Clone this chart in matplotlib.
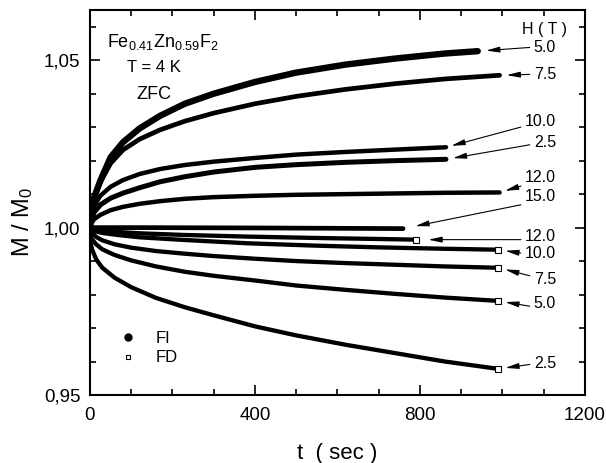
import matplotlib
matplotlib.use('Agg')
import matplotlib.pyplot as plt
from matplotlib.lines import Line2D
from matplotlib.ticker import MultipleLocator

plt.rcParams['font.family'] = ['Liberation Sans', 'DejaVu Sans']
plt.rcParams['mathtext.fontset'] = 'custom'
plt.rcParams['mathtext.rm'] = 'Liberation Sans'
plt.rcParams['mathtext.it'] = 'Liberation Sans:italic'
plt.rcParams['mathtext.bf'] = 'Liberation Sans:bold'

# field-increasing (FI) relaxation curves, H in tesla
fi_5_t = [0, 3, 10, 25, 50, 80, 120, 170, 230, 300, 400, 500, 620, 740, 860, 940]
fi_5_m = [1.000, 1.004, 1.009, 1.0140, 1.0210, 1.0255, 1.0296, 1.0334, 1.0370, 1.0400, 1.0435, 1.0463,
          1.0487, 1.0505, 1.0520, 1.0527]

fi_75_t = [0, 3, 10, 25, 50, 80, 120, 170, 230, 300, 400, 500, 620, 740, 860, 993]
fi_75_m = [1.000, 1.004, 1.009, 1.0135, 1.0192, 1.0232, 1.0264, 1.0292, 1.0318, 1.0342, 1.0370, 1.0392,
           1.0413, 1.0430, 1.0444, 1.0455]

fi_10_t = [0, 3, 10, 25, 50, 80, 120, 170, 230, 300, 400, 500, 620, 740, 863]
fi_10_m = [1.000, 1.003, 1.0065, 1.0095, 1.0122, 1.0142, 1.0160, 1.0175, 1.0187, 1.0197, 1.0208, 1.0218,
           1.0226, 1.0233, 1.024]

fi_25_t = [0, 3, 10, 25, 50, 80, 120, 170, 230, 300, 400, 500, 620, 740, 863]
fi_25_m = [1.000, 1.002, 1.0045, 1.0068, 1.0088, 1.0103, 1.0119, 1.0137, 1.0152, 1.0166, 1.0180, 1.0188,
           1.0195, 1.0200, 1.0204]

fi_12_t = [0, 3, 10, 25, 50, 80, 120, 170, 230, 300, 400, 500, 620, 740, 860, 993]
fi_12_m = [1.000, 1.0012, 1.0025, 1.0038, 1.0052, 1.0062, 1.0071, 1.0079, 1.0086, 1.0091, 1.0095, 1.0098,
           1.0100, 1.0102, 1.0104, 1.0105]

fi_15_t = [0, 100, 400, 759]
fi_15_m = [1.0000, 1.0000, 0.9999, 0.9997]

# field-decreasing (FD) relaxation curves
fd_12_t = [0, 10, 30, 67, 120, 229, 385, 550, 699, 790]
fd_12_m = [0.9998, 0.9995, 0.9991, 0.9987, 0.9983, 0.9978, 0.9973, 0.9969, 0.9966, 0.9964]

fd_10_t = [0, 10, 30, 67, 120, 229, 385, 550, 699, 850, 990]
fd_10_m = [0.9995, 0.999, 0.9984, 0.9978, 0.9971, 0.9963, 0.9953, 0.9946, 0.9941, 0.9937, 0.9934]

fd_75_t = [0, 5, 15, 30, 60, 100, 160, 230, 300, 400, 500, 620, 740, 860, 990]
fd_75_m = [0.9995, 0.9985, 0.9972, 0.9962, 0.995, 0.9940, 0.9930, 0.9922, 0.9915, 0.9907, 0.9900, 0.9894,
           0.9889, 0.9884, 0.9880]

fd_5_t = [0, 5, 15, 30, 60, 100, 160, 230, 300, 400, 500, 620, 740, 860, 990]
fd_5_m = [0.998, 0.9965, 0.9950, 0.9935, 0.9918, 0.9902, 0.9884, 0.9868, 0.9856, 0.9842, 0.9827, 0.9814,
          0.9802, 0.9791, 0.9781]

fd_25_t = [0, 5, 15, 30, 60, 100, 160, 230, 300, 400, 500, 620, 740, 860, 990]
fd_25_m = [0.996, 0.9935, 0.9905, 0.9880, 0.9850, 0.9822, 0.9790, 0.9762, 0.9738, 0.9705, 0.9678, 0.9650,
           0.9625, 0.9600, 0.9578]

fi_curves = [(fi_5_t, fi_5_m), (fi_75_t, fi_75_m), (fi_10_t, fi_10_m),
             (fi_25_t, fi_25_m), (fi_12_t, fi_12_m), (fi_15_t, fi_15_m)]
fi_labels = ['5.0', '7.5', '10.0', '2.5', '12.0', '15.0']
fd_curves = [(fd_12_t, fd_12_m), (fd_10_t, fd_10_m), (fd_75_t, fd_75_m),
             (fd_5_t, fd_5_m), (fd_25_t, fd_25_m)]
fd_labels = ['12.0', '10.0', '7.5', '5.0', '2.5']

# label layout (text y in data units, arrow tail anchor on the text)
fi_text_y = [1.0539, 1.0458, 1.0317, 1.0254, 1.0150, 1.0093]
fi_relpos = [0.5, 0.5, 0.2, 0.4, 0.0, 0.0]
fi_shrink = [6, 5, 4, 5, 4, 9]
fi_lw = [4.6, 3.4, 3.2, 3.6, 3.2, 3.4]
fd_text_y = [0.9973, 0.9922, 0.9844, 0.9772, 0.9593]
fd_relpos = [0.3, 0.5, 0.7, 0.3, 0.5]
fd_shrink = [9, 5, 5, 5, 5]

fig = plt.figure(figsize=(6.06, 4.63), dpi=100)
ax = fig.add_axes([0.1485, 0.1469, 0.8168, 0.8315])

for (t, m), lw in zip(fi_curves, fi_lw):
    ax.plot(t, m, color='k', lw=lw, solid_capstyle='round', solid_joinstyle='round')
for t, m in fd_curves:
    ax.plot(t, m, color='k', lw=3.1, solid_capstyle='butt', solid_joinstyle='round')
    ax.plot(t[-1:], m[-1:], ls='none', marker='s', ms=4, mfc='white', mec='k', mew=0.8)

arrow = '-|>,head_length=0.7,head_width=0.15'
for (t, m), lab, ty, rp, sh in zip(fi_curves, fi_labels, fi_text_y, fi_relpos, fi_shrink):
    ax.annotate(lab, xy=(t[-1], m[-1]), xytext=(1130, ty), ha='right', va='center', fontsize=11.5,
                arrowprops=dict(arrowstyle=arrow, color='k', lw=0.8, shrinkA=1, shrinkB=sh,
                                relpos=(0, rp)))
for (t, m), lab, ty, rp, sh in zip(fd_curves, fd_labels, fd_text_y, fd_relpos, fd_shrink):
    ax.annotate(lab, xy=(t[-1], m[-1]), xytext=(1130, ty), ha='right', va='center', fontsize=11.5,
                arrowprops=dict(arrowstyle=arrow, color='k', lw=0.8, shrinkA=1, shrinkB=sh,
                                relpos=(0, rp)))
ax.text(1103, 1.0593, 'H ( T )', ha='center', va='center', fontsize=11.5)

ax.text(0.035, 0.905, 'Fe$_{0.41}$Zn$_{0.59}$F$_2$', transform=ax.transAxes, fontsize=13)
ax.text(0.0755, 0.838, 'T = 4 K', transform=ax.transAxes, fontsize=12)
ax.text(0.093, 0.768, 'ZFC', transform=ax.transAxes, fontsize=13)

handles = [Line2D([], [], ls='none', marker='o', color='k', ms=5),
           Line2D([], [], ls='none', marker='s', ms=3.5, mfc='white', mec='k', mew=0.8)]
ax.legend(handles, ['FI', 'FD'], loc='lower left', bbox_to_anchor=(0.035, 0.055), frameon=False,
          fontsize=12, handlelength=1.5, handletextpad=0.9, labelspacing=0.25, borderpad=0)

ax.set_xlim(0, 1200)
ax.set_ylim(0.95, 1.065)
ax.set_xticks([0, 400, 800, 1200])
ax.set_yticks([0.95, 1.00, 1.05])
ax.set_yticklabels(['0,95', '1,00', '1,05'])
ax.xaxis.set_minor_locator(MultipleLocator(100))
ax.yaxis.set_minor_locator(MultipleLocator(0.01))
ax.tick_params(which='both', direction='in', top=True, right=True, width=1.2, labelsize=13.5)
ax.tick_params(which='major', length=7)
ax.tick_params(which='minor', length=4.5)
ax.tick_params(axis='x', pad=9)
ax.tick_params(axis='y', pad=7)
for s in ax.spines.values():
    s.set_linewidth(1.5)

ax.set_xlabel('t  ( sec )', fontsize=16, va='center')
ax.xaxis.set_label_coords(0.5, -0.151)
ax.set_ylabel('M / M$_0$', fontsize=17, va='center')
ax.yaxis.set_label_coords(-0.137, 0.449)

fig.savefig('out.png', dpi=100)
